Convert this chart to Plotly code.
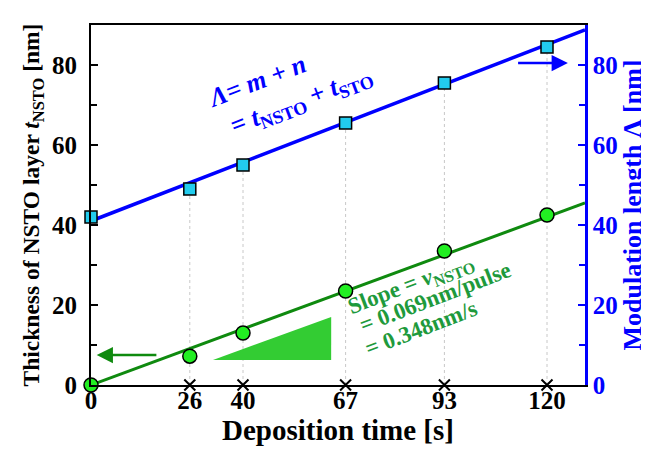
import plotly.graph_objects as go

# ---- data ----
time_s = [0, 26, 40, 67, 93, 120]
t_nsto = [0, 7.2, 13.0, 23.5, 33.5, 42.5]
mod_len = [42.0, 49.0, 55.0, 65.5, 75.5, 84.5]

fit_x = [0, 130]
fit_nsto = [0, 45.5]
fit_mod = [41.0, 88.8]

x_ticks = [0, 26, 40, 67, 93, 120]
tri_x = [32.1, 63.2, 63.2, 32.1]
tri_y = [6.25, 6.25, 17.0, 6.25]

FONT = "Liberation Serif"
BLUE = "#0000ff"
GREEN_LINE = "#0f8a0f"
GREEN_TXT = "#1e9a3c"

fig = go.Figure()

# dotted guide lines from x-axis up to squares
gx, gy = [], []
for xv, yv in zip(time_s[1:], mod_len[1:]):
    gx += [xv, xv, None]
    gy += [0, yv, None]
fig.add_trace(go.Scatter(x=gx, y=gy, mode="lines", line=dict(color="#c8c8c8", width=1, dash="dot"),
                         hoverinfo="skip", showlegend=False))

# triangle
fig.add_trace(go.Scatter(x=tri_x, y=tri_y, mode="lines", fill="toself", fillcolor="#33cc33",
                         line=dict(color="#33cc33", width=0), showlegend=False, hoverinfo="skip"))

# fit lines
fig.add_trace(go.Scatter(x=fit_x, y=fit_nsto, mode="lines", line=dict(color=GREEN_LINE, width=3),
                         showlegend=False, cliponaxis=False))
fig.add_trace(go.Scatter(x=fit_x, y=fit_mod, mode="lines", line=dict(color=BLUE, width=3.5),
                         showlegend=False, yaxis="y2", cliponaxis=False))

# x markers on axis
fig.add_trace(go.Scatter(x=x_ticks[1:], y=[0]*5, mode="markers",
                         marker=dict(symbol="x-thin", size=11, line=dict(color="black", width=2)),
                         showlegend=False, cliponaxis=False))

# data points
fig.add_trace(go.Scatter(x=time_s, y=t_nsto, mode="markers",
                         marker=dict(symbol="circle", size=14, color="#22ee22", line=dict(color="black", width=1.5)),
                         showlegend=False, cliponaxis=False))
fig.add_trace(go.Scatter(x=time_s, y=mod_len, mode="markers", yaxis="y2",
                         marker=dict(symbol="square", size=12, color="#22ccee", line=dict(color="black", width=1.5)),
                         showlegend=False, cliponaxis=False))

fig.update_layout(
    width=649, height=451,
    margin=dict(l=83, r=72, t=17, b=74),
    plot_bgcolor="white", paper_bgcolor="white",
    font=dict(family=FONT),
    xaxis=dict(range=[0, 130], tickvals=x_ticks, ticks="", showgrid=False, zeroline=False,
               showline=True, linecolor="black", linewidth=2, mirror=True, ticklabelstandoff=-8,
               tickfont=dict(family=FONT, size=25, color="black", weight="bold"),
               title=dict(text="Deposition time [s]", standoff=2,
                          font=dict(family=FONT, size=29, color="black", weight="bold"))),
    yaxis=dict(range=[0, 90], tickvals=[0, 20, 40, 60, 80], ticks="inside", ticklen=7, tickwidth=2,
               tickcolor="black", showgrid=False, zeroline=False, showline=True, linecolor="black",
               linewidth=2, ticklabelstandoff=7,
               tickfont=dict(family=FONT, size=25, color="black", weight="bold"),
               minor=dict(tickvals=[10, 30, 50, 70], ticks="inside", ticklen=6, tickwidth=2, tickcolor="black"),
               title=dict(text="Thickness of NSTO layer <i>t</i><sub>NSTO</sub> [nm]", standoff=6,
                          font=dict(family=FONT, size=23.5, color="black", weight="bold"))),
    yaxis2=dict(range=[0, 90], overlaying="y", side="right", tickvals=[0, 20, 40, 60, 80],
                ticks="inside", ticklen=7, tickwidth=2, tickcolor=BLUE, showgrid=False, zeroline=False,
                showline=True, linecolor=BLUE, linewidth=2.5,
                tickfont=dict(family=FONT, size=25, color=BLUE, weight="bold"),
                minor=dict(tickvals=[10, 30, 50, 70], ticks="inside", ticklen=6, tickwidth=2, tickcolor=BLUE),
                title=dict(text="Modulation length Λ [nm]", standoff=6,
                           font=dict(family=FONT, size=26, color=BLUE, weight="bold"))),
)

ann_font_b = dict(family=FONT, size=26, color=BLUE)
ann_font_g = dict(family=FONT, size=23, color=GREEN_TXT)
fig.add_annotation(x=43.5, y=76.0, text="<b><i>Λ= m + n</i></b>", showarrow=False, textangle=-21, font=ann_font_b)
fig.add_annotation(x=55.5, y=71.0, text="<b>= <i>t</i><sub>NSTO</sub> + <i>t</i><sub>STO</sub></b>",
                   showarrow=False, textangle=-21, font=ann_font_b)
fig.add_annotation(x=84.3, y=25.0, text="<b>Slope = <i>v</i><sub>NSTO</sub></b>", showarrow=False,
                   textangle=-21, font=ann_font_g)
fig.add_annotation(x=90.5, y=22.0, text="<b>= 0.069nm/pulse</b>", showarrow=False, textangle=-21, font=ann_font_g)
fig.add_annotation(x=86.8, y=14.2, text="<b>= 0.348nm/s</b>", showarrow=False, textangle=-21, font=ann_font_g)

# direction arrows
fig.add_annotation(x=1.5, y=7.5, ax=17.6, ay=7.5, xref="x", yref="y", axref="x", ayref="y",
                   text="", showarrow=True, arrowhead=2, arrowsize=1.3, arrowwidth=2.5, arrowcolor=GREEN_LINE)
fig.add_annotation(x=125.5, y=80.5, ax=112, ay=80.5, xref="x", yref="y", axref="x", ayref="y",
                   text="", showarrow=True, arrowhead=2, arrowsize=1.3, arrowwidth=2.5, arrowcolor=BLUE)

fig.write_html("out.html")
